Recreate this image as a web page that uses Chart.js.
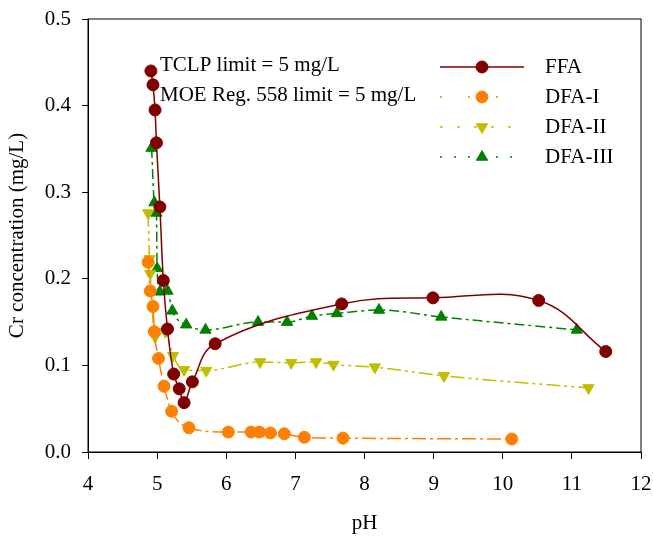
<!DOCTYPE html>
<html>
<head>
<meta charset="utf-8">
<script src="https://cdn.jsdelivr.net/npm/chart.js@4"></script>
<style>
  body { margin: 0; background: #fff; }
  #wrap { width: 653px; height: 542px; }
</style>
</head>
<body>
<div id="wrap"><canvas id="crChart"></canvas></div>
<script>
// pH vs Cr concentration (mg/L)
const ffaPH   = [4.91, 4.94, 4.97, 4.99, 5.04, 5.09, 5.15, 5.24, 5.32, 5.39, 5.51, 5.84, 7.67, 8.99, 10.52, 11.49];
const ffaCr   = [0.440, 0.424, 0.395, 0.357, 0.283, 0.198, 0.142, 0.090, 0.073, 0.057, 0.081, 0.125, 0.171, 0.178, 0.175, 0.116];

const dfa1PH  = [4.87, 4.90, 4.94, 4.96, 5.02, 5.10, 5.21, 5.46, 6.03, 6.36, 6.48, 6.64, 6.84, 7.13, 7.69, 10.13];
const dfa1Cr  = [0.219, 0.186, 0.168, 0.139, 0.108, 0.076, 0.047, 0.028, 0.023, 0.023, 0.023, 0.022, 0.021, 0.017, 0.016, 0.015];

const dfa2PH  = [4.87, 4.89, 4.90, 4.97, 5.12, 5.23, 5.39, 5.71, 6.49, 6.94, 7.30, 7.55, 8.15, 9.15, 11.24];
const dfa2Cr  = [0.276, 0.223, 0.206, 0.133, 0.139, 0.111, 0.095, 0.094, 0.104, 0.103, 0.104, 0.101, 0.098, 0.088, 0.074];

const dfa3PH  = [4.92, 4.96, 4.99, 5.00, 5.04, 5.15, 5.22, 5.42, 5.70, 6.46, 6.88, 7.24, 7.60, 8.21, 9.11, 11.07];
const dfa3Cr  = [0.351, 0.288, 0.276, 0.212, 0.185, 0.186, 0.163, 0.147, 0.141, 0.150, 0.150, 0.157, 0.160, 0.164, 0.156, 0.141];

const xTicks = [4, 5, 6, 7, 8, 9, 10, 11, 12];
const yTicks = [0.0, 0.1, 0.2, 0.3, 0.4, 0.5];
const notes = ["TCLP limit = 5 mg/L", "MOE Reg. 558 limit = 5 mg/L"];

const FONT = "'Liberation Serif', 'Times New Roman', serif";

function pts(xs, ys) {
    return xs.map((x, i) => ({ x: x, y: ys[i] }));
}

const series = [
    { label: "FFA", data: pts(ffaPH, ffaCr), color: "#800000", dash: [], style: "circle", rot: 0, radius: 6, smooth: "default" },
    { label: "DFA-I", data: pts(dfa1PH, dfa1Cr), color: "#ff8000", dash: [14, 4, 3, 4], style: "circle", rot: 0, radius: 6, smooth: "monotone" },
    { label: "DFA-II", data: pts(dfa2PH, dfa2Cr), color: "#bfbf00", dash: [14, 4, 3, 4, 3, 4], style: "triangle", rot: 180, radius: 6.5, smooth: "monotone" },
    { label: "DFA-III", data: pts(dfa3PH, dfa3Cr), color: "#008000", dash: [10, 4, 3, 4], style: "triangle", rot: 0, radius: 6.5, smooth: "monotone" }
];

// legend sample dashes look sparser than the drawn lines
const legendDash = [[], [2, 26], [3, 14], [2, 12]];

const extras = {
    id: "extras",
    afterDraw(chart) {
        const ctx = chart.ctx;
        const a = chart.chartArea;
        ctx.save();
        // box round the plot
        ctx.strokeStyle = "#000";
        ctx.lineWidth = 1;
        ctx.strokeRect(a.left, a.top, a.right - a.left, a.bottom - a.top);

        // limit notes
        ctx.fillStyle = "#000";
        ctx.font = "21px " + FONT;
        ctx.textBaseline = "middle";
        ctx.textAlign = "left";
        ctx.fillText(notes[0], 160, 65);
        ctx.fillText(notes[1], 160, 95);

        // legend
        series.forEach((s, i) => {
            const y = 67 + i * 30;
            ctx.strokeStyle = s.color;
            ctx.lineWidth = 1.5;
            ctx.setLineDash(legendDash[i]);
            ctx.beginPath();
            ctx.moveTo(440, y);
            ctx.lineTo(524, y);
            ctx.stroke();
            ctx.setLineDash([]);
            ctx.fillStyle = s.color;
            ctx.lineWidth = 1;
            Chart.helpers.drawPoint(ctx, {
                pointStyle: s.style, rotation: s.rot, radius: s.radius, borderWidth: 1
            }, 482, y);
            ctx.fillStyle = "#000";
            ctx.fillText(s.label, 545, y);
        });
        ctx.restore();
    }
};

new Chart(document.getElementById("crChart"), {
    type: "scatter",
    data: {
        datasets: series.map(s => ({
            label: s.label,
            data: s.data,
            showLine: true,
            borderColor: s.color,
            backgroundColor: s.color,
            borderWidth: 1.5,
            borderDash: s.dash,
            cubicInterpolationMode: s.smooth,
            tension: 0.4,
            pointStyle: s.style,
            rotation: s.rot,
            pointRadius: s.radius,
            pointBorderWidth: 1,
            pointBackgroundColor: s.color,
            pointBorderColor: s.color
        }))
    },
    options: {
        responsive: true,
        maintainAspectRatio: false,
        animation: false,
        layout: { padding: { left: 0, top: 19, right: 12, bottom: 0 } },
        plugins: {
            legend: { display: false },
            tooltip: { enabled: false }
        },
        scales: {
            x: {
                type: "linear",
                min: 4,
                max: 12,
                afterBuildTicks: s => { s.ticks = xTicks.map(v => ({ value: v })); },
                afterFit: s => { s.height = 90; s.paddingLeft = 0; s.paddingRight = 0; },
                grid: { drawOnChartArea: false, drawTicks: true, tickLength: 7, color: "#000" },
                border: { display: true, color: "#000", width: 1 },
                ticks: {
                    color: "#000",
                    padding: 13,
                    maxRotation: 0,
                    font: { family: FONT, size: 21 },
                    callback: v => String(v)
                },
                title: {
                    display: true,
                    text: "pH",
                    color: "#000",
                    font: { family: FONT, size: 21, lineHeight: 1.2 },
                    padding: { top: 0, bottom: 6 }
                }
            },
            y: {
                type: "linear",
                min: 0,
                max: 0.5,
                afterBuildTicks: s => { s.ticks = yTicks.map(v => ({ value: v })); },
                afterFit: s => { s.width = 88; s.paddingTop = 0; s.paddingBottom = 0; },
                grid: { drawOnChartArea: false, drawTicks: true, tickLength: 6, color: "#000" },
                border: { display: true, color: "#000", width: 1 },
                ticks: {
                    color: "#000",
                    padding: 11,
                    font: { family: FONT, size: 21 },
                    callback: v => v.toFixed(1)
                },
                title: {
                    display: true,
                    text: "Cr concentration (mg/L)",
                    color: "#000",
                    font: { family: FONT, size: 21, lineHeight: 1.2 },
                    padding: { top: 5, bottom: 0 }
                }
            }
        }
    },
    plugins: [extras]
});
</script>
</body>
</html>
